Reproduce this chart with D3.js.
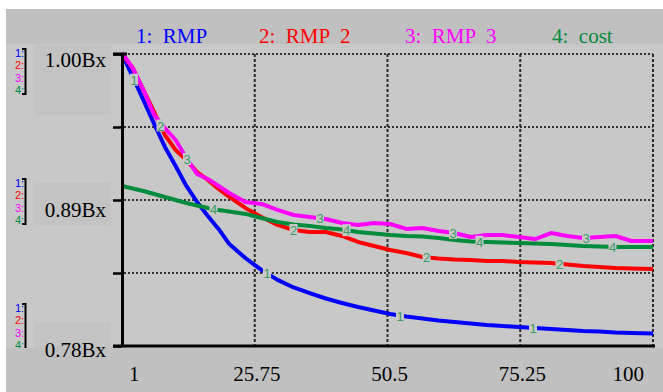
<!DOCTYPE html>
<html>
<head>
<meta charset="utf-8">
<script src="https://cdn.jsdelivr.net/npm/d3@7"></script>
<style>
  html, body { margin: 0; padding: 0; background: #fff; }
  svg { display: block; }
</style>
</head>
<body>
<div id="chart"></div>
<script>
// time axis (model time) and the four runs, values in billions
var times = [1,3,5,7,9,11,13,15,17,19,21,24,27,30,33,36,39,42,45,48,51,54,57,60,63,66,69,72,75,78,81,84,87,90,93,96,100];
var rmp  = [1.0000,0.9827,0.9653,0.9473,0.9300,0.9156,0.9006,0.8885,0.8779,0.8682,0.8568,0.8463,0.8373,0.8298,0.8241,0.8199,0.8158,0.8124,0.8094,0.8067,0.8041,0.8022,0.8007,0.7992,0.7981,0.7969,0.7958,0.7951,0.7943,0.7936,0.7928,0.7920,0.7913,0.7909,0.7902,0.7898,0.7894];
var rmp2 = [1.0000,0.9894,0.9729,0.9563,0.9390,0.9277,0.9201,0.9111,0.9051,0.8983,0.8923,0.8840,0.8772,0.8712,0.8674,0.8659,0.8659,0.8629,0.8584,0.8553,0.8523,0.8501,0.8471,0.8459,0.8452,0.8448,0.8441,0.8441,0.8433,0.8429,0.8425,0.8414,0.8403,0.8395,0.8388,0.8384,0.8380];
var rmp3 = [1.0008,0.9895,0.9729,0.9540,0.9442,0.9352,0.9216,0.9096,0.9058,0.9006,0.8953,0.8885,0.8870,0.8825,0.8787,0.8772,0.8757,0.8727,0.8712,0.8727,0.8719,0.8682,0.8689,0.8666,0.8651,0.8621,0.8636,0.8636,0.8621,0.8606,0.8651,0.8629,0.8614,0.8621,0.8629,0.8591,0.8591];
var cost = [0.9005,0.8987,0.8968,0.8945,0.8923,0.8900,0.8877,0.8859,0.8840,0.8825,0.8813,0.8795,0.8764,0.8734,0.8715,0.8704,0.8689,0.8678,0.8659,0.8648,0.8636,0.8629,0.8625,0.8614,0.8599,0.8587,0.8584,0.8580,0.8576,0.8572,0.8569,0.8561,0.8553,0.8550,0.8546,0.8546,0.8546];

var seriesNames  = ["RMP", "RMP  2", "RMP  3", "cost"];
var seriesColors = ["#0000ff", "#ff0000", "#ff00ff", "#008c3c"];
var xTicks = [1, 25.75, 50.5, 75.25, 100];
var yTicks = [0.78, 0.835, 0.89, 0.945, 1.00];
var yLabelValues = [1.00, 0.89, 0.78];

var W = 663, H = 392;
var serif = "'Liberation Serif', 'Times New Roman', serif";
var sans = "'Liberation Sans', Arial, sans-serif";
var labelColor = "#3a9c62";
var plotBg = "#c8c8c8";

var series = [rmp, rmp2, rmp3, cost].map(function(vals, i) {
  return {
    id: i + 1,
    name: seriesNames[i],
    color: seriesColors[i],
    values: vals.map(function(v, k) { return {t: times[k], v: v}; })
  };
});

var x = d3.scaleLinear().domain([1, 100]).range([122, 653]);
var y = d3.scaleLinear().domain([0.78, 1.00]).range([346, 54]);

var svg = d3.select("#chart").append("svg")
    .attr("width", W)
    .attr("height", H);

// background panels
svg.append("rect").attr("width", W).attr("height", H).attr("fill", "#fff");
svg.append("rect").attr("x", 6).attr("y", 9).attr("width", W - 6).attr("height", H - 9).attr("fill", "#c0c0c0");
svg.append("rect").attr("x", 6).attr("y", 44).attr("width", W - 6).attr("height", 304).attr("fill", plotBg);

// boxes behind the y labels
var boxTop = [-9, -17, -23], boxH = [70, 42, 25];
svg.selectAll(".ybox")
  .data(yLabelValues)
  .enter().append("rect")
    .attr("class", "ybox")
    .attr("x", 34)
    .attr("y", (d, i) => y(d) + boxTop[i])
    .attr("width", 77)
    .attr("height", (d, i) => boxH[i])
    .attr("fill", "#c3c3c3");

// small per-axis legend groups on the far left
var groupOffset = [3, -13, -34];
yLabelValues.forEach(function(v, gi) {
  var top = y(v) + groupOffset[gi];
  var g = svg.append("g");
  g.selectAll("text")
    .data(series)
    .enter().append("text")
      .attr("x", 15)
      .attr("y", (d, i) => top + i * 12.3)
      .attr("fill", d => d.color)
      .style("font-family", sans)
      .style("font-size", "11px")
      .text(d => d.id + ":");
  g.append("path")
    .attr("d", "M22," + (top - 8) + "H25.5V" + (top + 37) + "H22")
    .attr("fill", "none")
    .attr("stroke", "#000")
    .attr("stroke-width", 2);
});

// grid
svg.append("g")
  .selectAll("line")
  .data(yTicks.filter(d => d > 0.78))
  .enter().append("line")
    .attr("x1", 124).attr("x2", x(100))
    .attr("y1", d => y(d)).attr("y2", d => y(d))
    .attr("stroke", "#333")
    .attr("stroke-width", 2)
    .attr("stroke-dasharray", "2,2");

svg.append("g")
  .selectAll("line")
  .data(xTicks.filter(d => d > 1))
  .enter().append("line")
    .attr("x1", d => x(d)).attr("x2", d => x(d))
    .attr("y1", y(1.00)).attr("y2", y(0.78))
    .attr("stroke", "#2a2a2a")
    .attr("stroke-width", 2)
    .attr("stroke-dasharray", "3,2");

// the runs
var line = d3.line()
    .x(d => x(d.t))
    .y(d => y(d.v));

svg.append("g")
  .selectAll("path")
  .data(series)
  .enter().append("path")
    .attr("fill", "none")
    .attr("stroke", d => d.color)
    .attr("stroke-width", 4)
    .attr("stroke-linejoin", "round")
    .attr("d", d => line(d.values));

// numbered markers along each run
var bis = d3.bisector(d => d.t).left;
function valueAt(vals, t) {
  var k = Math.max(1, Math.min(vals.length - 1, bis(vals, t)));
  var a = vals[k - 1], b = vals[k];
  return a.v + (b.v - a.v) * (t - a.t) / (b.t - a.t);
}

var marks = [];
series.forEach(function(s, i) {
  d3.range(4).forEach(function(j) {
    var t = x.invert(x(1) + 12 + i * 26.5 + j * 133);
    marks.push({id: s.id, t: t, v: valueAt(s.values, t)});
  });
});

var mg = svg.append("g");
mg.selectAll("rect")
  .data(marks)
  .enter().append("rect")
    .attr("x", d => x(d.t) - 4)
    .attr("y", d => y(d.v) - 6)
    .attr("width", 8)
    .attr("height", 12)
    .attr("fill", plotBg);
mg.selectAll("text")
  .data(marks)
  .enter().append("text")
    .attr("x", d => x(d.t))
    .attr("y", d => y(d.v) + 5)
    .attr("text-anchor", "middle")
    .attr("fill", labelColor)
    .style("font-family", sans)
    .style("font-size", "13px")
    .text(d => d.id);

// bottom band
svg.append("rect").attr("x", 6).attr("y", 348).attr("width", W - 6).attr("height", H - 348).attr("fill", "#c0c0c0");

// axes
var yAxis = d3.axisLeft(y)
    .tickValues(yTicks)
    .tickSize(9)
    .tickFormat("");

svg.append("g")
    .attr("transform", "translate(122,0)")
    .call(yAxis)
    .call(g => g.select(".domain").remove())
    .call(g => g.selectAll(".tick line").attr("stroke", "#000").attr("stroke-width", 2.5));

svg.append("line")
  .attr("x1", 113).attr("x2", 127)
  .attr("y1", y(1.00)).attr("y2", y(1.00))
  .attr("stroke", "#000").attr("stroke-width", 3);

svg.append("line")
  .attr("x1", 122.5).attr("x2", 122.5)
  .attr("y1", y(1.00)).attr("y2", y(0.78) + 1)
  .attr("stroke", "#000").attr("stroke-width", 3);

var xAxis = d3.axisBottom(x)
    .tickValues(xTicks)
    .tickSize(0)
    .tickFormat("");

svg.append("g")
    .attr("transform", "translate(0," + (y(0.78)) + ")")
    .call(xAxis)
    .call(g => g.select(".domain").remove());

svg.append("line")
  .attr("x1", 113).attr("x2", 655)
  .attr("y1", y(0.78)).attr("y2", y(0.78))
  .attr("stroke", "#000").attr("stroke-width", 3);

// x tick labels
svg.append("g")
  .selectAll("text")
  .data(xTicks)
  .enter().append("text")
    .attr("x", (d, i) => i === 0 ? x(d) + 7 : (i === xTicks.length - 1 ? x(d) - 9 : x(d) + 2))
    .attr("y", 381)
    .attr("text-anchor", (d, i) => i === 0 ? "start" : (i === xTicks.length - 1 ? "end" : "middle"))
    .attr("fill", "#000")
    .style("font-family", serif)
    .style("font-size", "21px")
    .text(d => d);

// y tick labels
var yLabOffset = [13, 17, 11];
svg.append("g")
  .selectAll("text")
  .data(yLabelValues)
  .enter().append("text")
    .attr("x", 106)
    .attr("y", (d, i) => y(d) + yLabOffset[i])
    .attr("text-anchor", "end")
    .attr("fill", "#000")
    .style("font-family", serif)
    .style("font-size", "21px")
    .text(d => d3.format(".2f")(d) + "Bx");

// legend across the top
var legendX = [136, 259, 405, 552];
svg.append("g")
  .selectAll("text")
  .data(series)
  .enter().append("text")
    .attr("x", (d, i) => legendX[i])
    .attr("y", 43)
    .attr("fill", d => d.color)
    .style("font-family", serif)
    .style("font-size", "21px")
    .style("white-space", "pre")
    .text(d => d.id + ":  " + d.name);
</script>
</body>
</html>
